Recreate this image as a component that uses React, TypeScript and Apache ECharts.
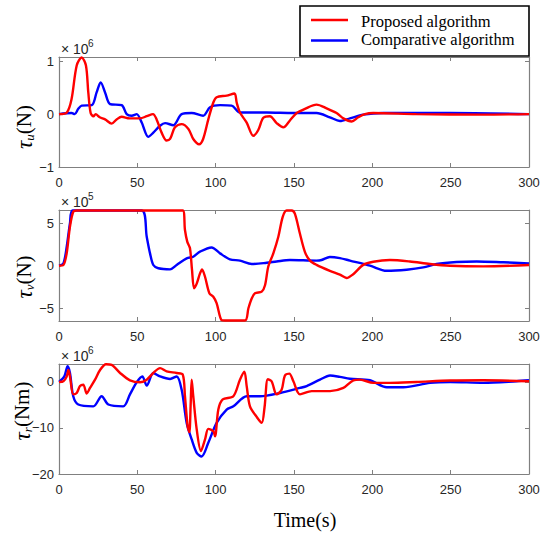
import React, { useEffect, useRef } from "react";
import * as echarts from "echarts";

// ---- data (time in s, values in units of the axis multiplier) ----
const X_TICKS = [0, 50, 100, 150, 200, 250, 300];
const TAU_U_TICKS = [-1, 0, 1];
const TAU_V_TICKS = [-5, 0, 5];
const TAU_R_TICKS = [-20, -10, 0];

// tau_u  (x 10^6 N)
const tauUProposed: number[][] = [
  [0, 0], [5, 0.03], [8, 0.28], [11.3, 0.92], [14.5, 1.07], [17.2, 0.92], [18.7, 0.41], [20.2, 0.02],
  [22, -0.04], [23.4, 0], [26, -0.06], [29.4, -0.1], [33.6, -0.18], [36.8, -0.1], [40, -0.05], [45, -0.08],
  [51.7, -0.08], [56, -0.04], [60, 0], [62.3, -0.1], [65.5, -0.35], [68.7, -0.5], [70.9, -0.47], [74, -0.25],
  [78.3, -0.19], [82.6, -0.28], [85.7, -0.47], [89.4, -0.57], [92, -0.47], [95.3, -0.1], [98.5, 0.22],
  [100.6, 0.32], [107, 0.35], [112, 0.39], [113.4, 0.22], [115.5, 0.03], [119.8, -0.16], [124, -0.41],
  [127.2, -0.3], [130.4, -0.07], [134.6, -0.04], [138.9, -0.17], [143.2, -0.25], [147.4, -0.12],
  [151.7, 0.02], [157, 0.1], [164.4, 0.18], [170.8, 0.11], [177.2, 0.02], [181.5, -0.08], [186.8, -0.14],
  [191, -0.06], [195.3, 0], [200.6, 0.02], [228, 0], [270, -0.01], [300, 0],
];
const tauUComparative: number[][] = [
  [0, 0], [8, 0.02], [10, 0], [12.3, 0.1], [14.5, 0.16], [20.9, 0.17], [24, 0.41], [26.6, 0.6], [29.4, 0.41],
  [32.6, 0.19], [40, 0.17], [43.2, 0], [46.4, -0.03], [49.6, 0], [52.8, -0.16], [57, -0.43], [60.2, -0.35],
  [64.5, -0.22], [67.7, -0.17], [73, -0.21], [78.3, 0], [84.7, 0.02], [92, -0.03], [96.4, 0.13],
  [102.8, 0.17], [110.2, 0.16], [115.5, 0.03], [132.6, 0.03], [149.6, 0.02], [164.4, 0.02], [172.9, -0.06],
  [179.3, -0.13], [185.7, -0.08], [194.2, -0.01], [207, 0.02], [249.5, 0.02], [300, 0],
];

// tau_v  (x 10^5 N)
const tauVProposed: number[][] = [
  [0, 0], [2.8, 0.08], [4.9, 1.45], [7, 4.6], [9.1, 6.35], [11.3, 6.5], [79, 6.5], [80.4, 4.2], [81.9, 2.8],
  [83.6, 2.05], [84.9, -0.5], [86.2, -2.65], [87.9, -2.1], [90, -0.9], [91.3, -0.43], [93.2, -1.3],
  [96, -3.25], [98.5, -3.65], [100.6, -4.4], [103.8, -6.4], [106, -6.45], [118.7, -6.45], [120.9, -5],
  [123, -3.85], [125.1, -3.25], [129.4, -3.05], [131.5, -2.3], [133.6, -0.1], [136.8, 1.45], [140, 3.4],
  [142.8, 5.75], [145.3, 6.5], [148.5, 6.5], [150.6, 6.1], [153.8, 3.75], [157, 1.6], [160.2, 0.6],
  [164.4, 0.1], [172.9, -0.6], [179.3, -1.05], [183.6, -1.45], [187.8, -1], [194.2, 0.1], [200.6, 0.47],
  [211.2, 0.67], [224, 0.5], [236.8, 0.2], [249.5, 0], [270.8, -0.08], [300, 0.08],
];
const tauVComparative: number[][] = [
  [0, 0], [2.8, 0.27], [4.9, 2.2], [7, 5], [8.7, 6.5], [52.8, 6.5], [56, 3.4], [58.1, 1.45], [60.2, 0.08],
  [63.4, -0.3], [70.9, -0.43], [75.1, 0.08], [81.5, 0.86], [85.7, 1.06], [90, 1.65], [97.4, 2.15],
  [102.8, 1.45], [109.1, 0.75], [115.5, 0.6], [123, 0.2], [132.6, 0.35], [138.9, 0.5], [147.4, 0.67],
  [164.4, 0.6], [167.6, 0.67], [172.9, 1.03], [179.3, 0.9], [185.7, 0.6], [198.5, 0], [209.1, -0.6],
  [221.9, -0.47], [232.5, -0.2], [241, 0.2], [253.8, 0.43], [266.6, 0.5], [283.6, 0.4], [300, 0.28],
];

// tau_r  (x 10^6 Nm)
const tauRProposed: number[][] = [
  [0, 0], [2.8, 0.15], [4.9, 1.2], [6, 2.6], [7, 1.2], [9.1, -2.7], [11.3, -2.4], [13.4, -0.9], [15.5, -0.6],
  [17.7, -2.5], [19.8, -1.3], [23, 0.5], [26.2, 2.6], [30, 3.85], [33.6, 3.7], [39, 1.95], [45.3, 0.36],
  [51.7, -0.07], [56, 0.5], [60.2, 1.95], [64.5, 3], [68.7, 2.3], [75.1, 1.95], [79, 1.6], [80.4, -3.1],
  [82.1, -9.6], [83.2, -10.9], [84, -5.3], [84.7, 0.5], [85.7, -3.1], [87.9, -10.3], [90.6, -15],
  [93.2, -12.5], [95.3, -10.2], [98.5, -10.7], [99.6, -11.8], [101.7, -6], [104.5, -3.8], [111.3, -3.1],
  [115.5, 0.5], [118.3, 2.2], [119.8, -0.9], [121.9, -5.3], [126.2, -7.6], [129.4, -8.9], [131.2, -5.5],
  [133.3, 0.6], [135.7, 0.15], [138.9, -2.7], [142.1, -1.7], [144.2, 1.4], [147, 1.8], [149.6, 0.15],
  [153.8, -2.7], [161.3, -2], [173, -2], [181.5, -1.3], [187.9, 0.36], [192.1, 0.5], [200.6, -0.2],
  [211.3, -0.2], [228.3, 0], [249.6, 0.3], [270.9, 0.36], [300, 0.15],
];
const tauRComparative: number[][] = [
  [0, 0], [3.4, 1.2], [5.5, 3.4], [7, 1.95], [9.1, -3.1], [12.3, -4.9], [21.9, -5.3], [27.2, -3.1],
  [31.5, -4.9], [41, -5.3], [45.3, -2.7], [49.6, -0.07], [53.2, 1.2], [56, -0.8], [60.2, 1.95], [64.5, 1.2],
  [70.9, 0.65], [75.1, 1.2], [78.3, -1.7], [81.5, -8.9], [84.7, -12.5], [87.9, -15.4], [91, -16.2],
  [95.3, -13.2], [100.6, -8.9], [107, -6], [111.3, -5.3], [119.8, -3.1], [128.3, -3.1], [141.1, -2.4],
  [153.8, -1.3], [158.1, -0.9], [166.6, 0.5], [173, 1.4], [179.3, 1.1], [185.7, 0.7], [198.5, 0.36],
  [209.2, -1.15], [219.8, -1.15], [236.8, -0.2], [249.6, 0], [270.9, -0.2], [292, 0.15], [300, 0.36],
];

const PANELS = [
  { top: 57, height: 110, min: -1, max: 1.08, ticks: TAU_U_TICKS, red: tauUProposed, blue: tauUComparative },
  { top: 210, height: 111, min: -6.5, max: 6.55, ticks: TAU_V_TICKS, red: tauVProposed, blue: tauVComparative },
  { top: 364, height: 110, min: -20, max: 3.9, ticks: TAU_R_TICKS, red: tauRProposed, blue: tauRComparative },
];

const AXIS_COLOR = "#808080";
const LABEL_COLOR = "#262626";
const SANS = "'Liberation Sans', Arial, sans-serif";
const SERIF = "'Liberation Serif', 'Times New Roman', serif";

const fmt = (v: number) => (v < 0 ? "\u2212" + Math.abs(v) : String(v));

export default function App() {
  const ref = useRef<HTMLDivElement>(null);
  useEffect(() => {
    if (!ref.current) return;
    const chart = echarts.init(ref.current, undefined, { renderer: "svg" });
    const grid: any[] = [];
    const xAxis: any[] = [];
    const yAxis: any[] = [];
    const series: any[] = [];
    PANELS.forEach((p, i) => {
      grid.push({ left: 59, width: 470, top: p.top, height: p.height });
      const tick = { inside: true, length: 4, lineStyle: { color: AXIS_COLOR, width: 1 } };
      const line = { show: true, onZero: false, lineStyle: { color: AXIS_COLOR, width: 1.2 } };
      xAxis.push({
        type: "value", gridIndex: i, min: 0, max: 300, interval: 50, position: "bottom",
        axisLine: line, axisTick: { ...tick, customValues: X_TICKS }, splitLine: { show: false },
        axisLabel: { customValues: X_TICKS, color: LABEL_COLOR, fontFamily: SANS, fontSize: 13, margin: 9 },
      });
      xAxis.push({
        type: "value", gridIndex: i, min: 0, max: 300, interval: 50, position: "top",
        axisLine: line, axisTick: { ...tick, customValues: X_TICKS }, splitLine: { show: false }, axisLabel: { show: false },
      });
      yAxis.push({
        type: "value", gridIndex: i, min: p.min, max: p.max, position: "left",
        axisLine: line, axisTick: { ...tick, customValues: p.ticks }, splitLine: { show: false },
        axisLabel: {
          customValues: p.ticks, formatter: fmt, color: LABEL_COLOR, fontFamily: SANS, fontSize: 13, margin: 5,
        },
      });
      yAxis.push({
        type: "value", gridIndex: i, min: p.min, max: p.max, position: "right",
        axisLine: line, axisTick: { ...tick, customValues: p.ticks }, splitLine: { show: false },
        axisLabel: { show: false },
      });
      series.push({
        type: "line", name: "Comparative algorithm", xAxisIndex: 2 * i, yAxisIndex: 2 * i, data: p.blue,
        showSymbol: false, symbol: "none", smooth: 0.3, lineStyle: { color: "#0000ff", width: 2.4 },
      });
      series.push({
        type: "line", name: "Proposed algorithm", xAxisIndex: 2 * i, yAxisIndex: 2 * i, data: p.red,
        showSymbol: false, symbol: "none", smooth: 0.3, lineStyle: { color: "#ff0000", width: 2.4 },
      });
    });

    const mult = (y: number, exp: string) => [
      { type: "text", x: 61, y, style: { text: "\u00d7 10", fontFamily: SANS, fontSize: 14, fill: LABEL_COLOR, verticalAlign: "middle" } },
      { type: "text", x: 88, y: y - 6, style: { text: exp, fontFamily: SANS, fontSize: 10, fill: LABEL_COLOR, verticalAlign: "middle" } },
    ];
    const yTitle = (x: number, y: number, sub: string, unit: string) => ({
      type: "text", x, y, rotation: Math.PI / 2,
      style: {
        text: "{t|\u03c4}{s|" + sub + "}{n|(" + unit + ")}",
        align: "center", verticalAlign: "middle", fill: "#000",
        rich: {
          t: { fontFamily: SERIF, fontSize: 23, fontStyle: "italic", fill: "#000" },
          s: { fontFamily: SERIF, fontSize: 13, fontStyle: "italic", fill: "#000", verticalAlign: "bottom", padding: [8, 0, 0, 0] },
          n: { fontFamily: SERIF, fontSize: 21, fill: "#000" },
        },
      },
    });

    const graphic: any[] = [
      ...mult(49, "6"),
      ...mult(202, "5"),
      ...mult(356, "6"),
      yTitle(24, 127, "u", "N"),
      yTitle(24, 277, "v", "N"),
      yTitle(22, 411, "r", "Nm"),
      { type: "text", x: 305, y: 520, style: { text: "Time(s)", fontFamily: SERIF, fontSize: 20, fill: "#000", align: "center", verticalAlign: "middle" } },
      { type: "rect", shape: { x: 300, y: 6, width: 229, height: 50 }, style: { fill: "#fff", stroke: "#000", lineWidth: 1.6 }, z: 100 },
      { type: "line", shape: { x1: 311, y1: 20, x2: 348, y2: 20 }, style: { stroke: "#ff0000", lineWidth: 2.5 }, z: 101 },
      { type: "line", shape: { x1: 311, y1: 40.5, x2: 348, y2: 40.5 }, style: { stroke: "#0000ff", lineWidth: 2.5 }, z: 101 },
      { type: "text", x: 361, y: 21, z: 101, style: { text: "Proposed algorithm", fontFamily: SERIF, fontSize: 16.5, fill: "#000", verticalAlign: "middle" } },
      { type: "text", x: 361, y: 39, z: 101, style: { text: "Comparative algorithm", fontFamily: SERIF, fontSize: 16.5, fill: "#000", verticalAlign: "middle" } },
    ];

    chart.setOption({
      animation: false,
      backgroundColor: "#fff",
      grid, xAxis, yAxis, series, graphic,
    });
    return () => chart.dispose();
  }, []);
  return <div ref={ref} style={{ position: "fixed", left: 0, top: 0, width: 550, height: 536 }} />;
}
